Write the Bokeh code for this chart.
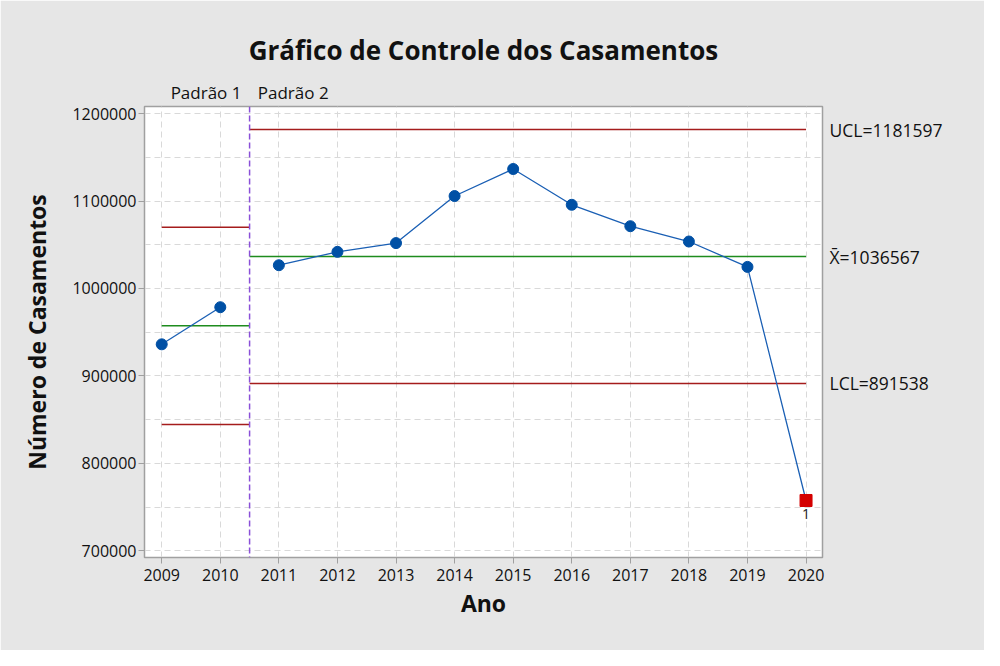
from bokeh.plotting import figure
from bokeh.models import Range1d, FixedTicker, Label, Span, LinearAxis
from bokeh.embed import file_html
from bokeh.resources import INLINE

# ---- data ----
years = [2009, 2010, 2011, 2012, 2013, 2014, 2015, 2016, 2017, 2018, 2019, 2020]
casamentos = [936200, 978600, 1026600, 1041900, 1051900, 1105700, 1136600,
              1095700, 1071200, 1053700, 1024700, 757700]
out_of_control = [2020]

# phase 1 limits (Padrão 1)
p1_start, p1_end = 2009, 2010.5
ucl1, cl1, lcl1 = 1070000, 957400, 844600
# phase 2 limits (Padrão 2)
p2_start, p2_end = 2010.5, 2020
ucl2, cl2, lcl2 = 1181597, 1036567, 891538

yticks = [700000, 800000, 900000, 1000000, 1100000, 1200000]
yminor = [750000, 850000, 950000, 1050000, 1150000]
phase_names = ["Padrão 1", "Padrão 2"]
phase_label_pos = [2009.757, 2011.245]

FONT = "Open Sans"
BG = "#e6e6e6"
FRAME = "#a0a0a0"
GRID = "#d9d9d9"
BLUE_LINE = "#1a5fb4"
BLUE_PT = "#0050a5"
RED = "#a51c1c"
GREEN = "#1e8c1e"
PURPLE = "#8a4fd8"
TXT = "#111111"

p = figure(width=984, height=650, output_backend="svg", toolbar_location=None,
           x_range=Range1d(2008.706, 2020.281), y_range=Range1d(692535, 1208022),
           min_border_left=144, min_border_right=162, min_border_top=106,
           min_border_bottom=93)

p.background_fill_color = "white"
p.border_fill_color = BG
p.outline_line_color = FRAME
p.outline_line_width = 1.5

# title
p.title.text = "Gráfico de Controle dos Casamentos"
p.title.align = "center"
p.title.text_font = FONT
p.title.text_font_size = "26px"
p.title.text_font_style = "bold"
p.title.text_color = TXT
p.title.standoff = 20

# axes
p.xaxis.ticker = FixedTicker(ticks=years)
p.yaxis.ticker = FixedTicker(ticks=yticks, minor_ticks=yminor)
p.xaxis.axis_label = "Ano"
p.yaxis.axis_label = "Número de Casamentos"
for ax in (p.xaxis, p.yaxis):
    ax.axis_line_color = FRAME
    ax.major_tick_line_color = FRAME
    ax.major_tick_out = 6
    ax.major_tick_in = 0
    ax.minor_tick_out = 0
    ax.minor_tick_in = 0
    ax.major_label_text_font = FONT
    ax.major_label_text_font_size = "16px"
    ax.major_label_text_color = TXT
    ax.axis_label_text_font = FONT
    ax.axis_label_text_font_size = "23px"
    ax.axis_label_text_font_style = "bold"
    ax.axis_label_text_color = TXT
p.yaxis.major_label_standoff = 2
p.xaxis.major_label_standoff = 5
p.yaxis.axis_label_standoff = 16
p.xaxis.axis_label_standoff = 3
p.yaxis.formatter.use_scientific = False

# right axis: control limit labels
lim_axis = LinearAxis(ticker=FixedTicker(ticks=[lcl2, cl2, ucl2]),
                      major_label_overrides={ucl2: "UCL=%d" % ucl2,
                                             cl2: "X\u0304=%d" % cl2,
                                             lcl2: "LCL=%d" % lcl2})
lim_axis.axis_line_color = None
lim_axis.major_tick_line_color = None
lim_axis.minor_tick_line_color = None
lim_axis.major_tick_out = 0
lim_axis.major_label_standoff = 7
lim_axis.major_label_text_font = FONT
lim_axis.major_label_text_font_size = "17.5px"
lim_axis.major_label_text_color = TXT
p.add_layout(lim_axis, "right")

# top axis: phase names
ph_axis = LinearAxis(ticker=FixedTicker(ticks=phase_label_pos),
                     major_label_overrides={phase_label_pos[0]: phase_names[0],
                                            phase_label_pos[1]: phase_names[1]})
ph_axis.axis_line_color = None
ph_axis.major_tick_line_color = None
ph_axis.minor_tick_line_color = None
ph_axis.major_tick_out = 0
ph_axis.major_label_standoff = 3
ph_axis.major_label_text_font = FONT
ph_axis.major_label_text_font_size = "17px"
ph_axis.major_label_text_color = TXT
p.add_layout(ph_axis, "above")

# grids
p.xgrid.grid_line_color = GRID
p.xgrid.grid_line_dash = "6 4"
p.ygrid.grid_line_color = GRID
p.ygrid.grid_line_dash = "6 4"
p.ygrid.minor_grid_line_color = GRID
p.ygrid.minor_grid_line_dash = "6 4"

# control limit lines
p.segment(x0=[p1_start, p1_start, p1_start], x1=[p1_end, p1_end, p1_end],
          y0=[ucl1, lcl1, cl1], y1=[ucl1, lcl1, cl1],
          line_color=[RED, RED, GREEN], line_width=1.5)
p.segment(x0=[p2_start, p2_start, p2_start], x1=[p2_end, p2_end, p2_end],
          y0=[ucl2, lcl2, cl2], y1=[ucl2, lcl2, cl2],
          line_color=[RED, RED, GREEN], line_width=1.5)

# phase separator
p.add_layout(Span(location=p1_end, dimension="height", line_color=PURPLE,
                  line_dash="6 3", line_width=1.5))

# data line (split per phase)
p.line(years[:2], casamentos[:2], line_color=BLUE_LINE, line_width=1.3)
p.line(years[2:], casamentos[2:], line_color=BLUE_LINE, line_width=1.3)

in_x = [x for x in years if x not in out_of_control]
in_y = [y for x, y in zip(years, casamentos) if x not in out_of_control]
out_x = [x for x in years if x in out_of_control]
out_y = [y for x, y in zip(years, casamentos) if x in out_of_control]
p.scatter(in_x, in_y, marker="circle", size=11, fill_color=BLUE_PT, line_color=BLUE_PT)
p.scatter(out_x, out_y, marker="square", size=12, fill_color="#d40000", line_color="#d40000")

for x, y in zip(out_x, out_y):
    p.add_layout(Label(x=x, y=y, text="1", text_align="center", text_baseline="top",
                       y_offset=-9, text_font=FONT, text_font_size="14px",
                       text_color="#222222"))

open("out.html", "w").write(file_html(p, INLINE))
